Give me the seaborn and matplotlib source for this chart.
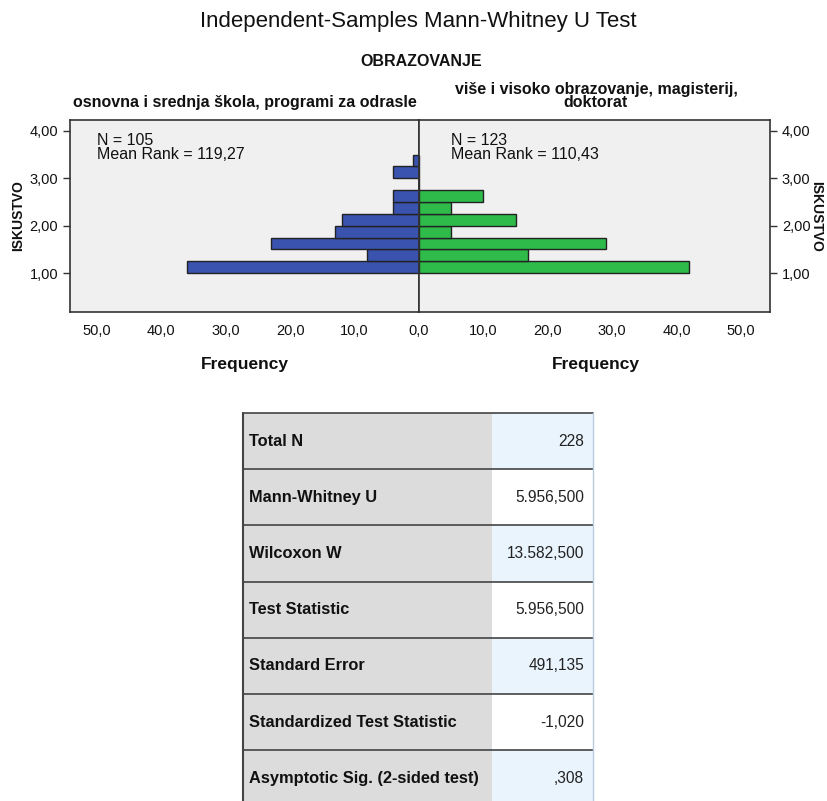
import numpy as np
import pandas as pd
import matplotlib
matplotlib.use('Agg')
import matplotlib.pyplot as plt
import seaborn as sns
from matplotlib.ticker import FuncFormatter
from matplotlib.patches import Rectangle

sns.set_style('white')
plt.rcParams['font.family'] = ['Liberation Sans', 'DejaVu Sans']
plt.rcParams['text.color'] = '#111111'

# ISKUSTVO bins (lower edges) and frequencies per group
bin_edges = [1.00, 1.25, 1.50, 1.75, 2.00, 2.25, 2.50, 2.75, 3.00, 3.25, 3.50]
bin_starts = [1.00, 1.25, 1.50, 1.75, 2.00, 2.25, 2.50, 2.75, 3.00, 3.25]
freq_left = [36, 8, 23, 13, 12, 4, 4, 0, 4, 1]
freq_right = [42, 17, 29, 5, 15, 5, 10, 0, 0, 0]

group_left = 'osnovna i srednja škola, programi za odrasle'
group_right = 'više i visoko obrazovanje, magisterij,\ndoktorat'
stats_left = 'N = 105\nMean Rank = 119,27'
stats_right = 'N = 123\nMean Rank = 110,43'

table_labels = ['Total N', 'Mann-Whitney U', 'Wilcoxon W', 'Test Statistic',
                'Standard Error', 'Standardized Test Statistic',
                'Asymptotic Sig. (2-sided test)']
table_values = ['228', '5.956,500', '13.582,500', '5.956,500', '491,135',
                '-1,020', ',308']

blue = '#3A53AE'
green = '#2EBB4A'
bg = '#F0F0F0'
edge = '#222222'

W, H = 827, 801
fig = plt.figure(figsize=(W / 100, H / 100), dpi=100)


def fx(px):
    return px / W


def fy(py):
    return 1 - py / H


top, bottom = 120, 312
axL = fig.add_axes([fx(70), fy(bottom), fx(419) - fx(70), fy(top) - fy(bottom)])
axR = fig.add_axes([fx(419), fy(bottom), fx(770) - fx(419), fy(top) - fy(bottom)])

dl = pd.DataFrame({'iskustvo': bin_starts, 'freq': freq_left})
dr = pd.DataFrame({'iskustvo': bin_starts, 'freq': freq_right})
dl = dl[dl['freq'] > 0]
dr = dr[dr['freq'] > 0]

sns.histplot(data=dl, y='iskustvo', weights='freq', bins=bin_edges, ax=axL,
             color=blue, edgecolor=edge, linewidth=1.0, alpha=1)
sns.histplot(data=dr, y='iskustvo', weights='freq', bins=bin_edges, ax=axR,
             color=green, edgecolor=edge, linewidth=1.0, alpha=1)

comma1 = FuncFormatter(lambda v, p: f'{v:.1f}'.replace('.', ','))
comma2 = FuncFormatter(lambda v, p: f'{v:.2f}'.replace('.', ','))

for ax in (axL, axR):
    ax.set_facecolor(bg)
    ax.set_ylim(0.18, 4.23)
    ax.set_yticks([1, 2, 3, 4])
    ax.yaxis.set_major_formatter(comma2)
    ax.xaxis.set_major_formatter(comma1)
    ax.set_xlabel('')
    ax.set_ylabel('')
    for s in ax.spines.values():
        s.set_color('#333333')
        s.set_linewidth(1.2)
    ax.tick_params(axis='both', direction='out', length=5, width=1,
                   color='#333333', labelsize=10.5, labelcolor='#111111')

axL.set_xlim(54.2, 0)
axL.set_xticks([10, 20, 30, 40, 50])
axR.set_xlim(0, 54.5)
axR.set_xticks([0, 10, 20, 30, 40, 50])
axL.tick_params(axis='y', left=True, right=False, labelleft=True)
axR.tick_params(axis='y', left=False, right=True, labelleft=False, labelright=True)

axL.text(0.077, 0.93, stats_left, transform=axL.transAxes, ha='left', va='top',
         fontsize=11.5, linespacing=0.9)
axR.text(0.09, 0.93, stats_right, transform=axR.transAxes, ha='left', va='top',
         fontsize=11.5, linespacing=0.9)

# titles and labels
fig.text(fx(418), fy(22), 'Independent-Samples Mann-Whitney U Test', ha='center',
         va='center', fontsize=16)
fig.text(fx(421), fy(62), 'OBRAZOVANJE', ha='center', va='center',
         fontsize=11.5, fontweight='bold')
fig.text(fx(245), fy(103), group_left, ha='center', va='center',
         fontsize=11.5, fontweight='bold')
fig.text(fx(596), fy(96), group_right, ha='center', va='center',
         fontsize=11.5, fontweight='bold', linespacing=0.9)
fig.text(fx(18), fy(216), 'ISKUSTVO', ha='center', va='center', rotation=90,
         fontsize=10, fontweight='bold')
fig.text(fx(816), fy(216), 'ISKUSTVO', ha='center', va='center', rotation=270,
         fontsize=10, fontweight='bold')
fig.text(fx(245), fy(365), 'Frequency', ha='center', va='center',
         fontsize=12.5, fontweight='bold')
fig.text(fx(596), fy(365), 'Frequency', ha='center', va='center',
         fontsize=12.5, fontweight='bold')

# statistics table
t_left, t_right, t_top, row_h = 243, 593, 413, 56.2
n_rows = len(table_labels)
t_bottom = t_top + n_rows * row_h
axT = fig.add_axes([fx(t_left), fy(t_bottom), fx(t_right) - fx(t_left),
                    fy(t_top) - fy(t_bottom)])
axT.set_xlim(0, t_right - t_left)
axT.set_ylim(n_rows, 0)
axT.axis('off')
split = 492 - t_left
for i, (lab, val) in enumerate(zip(table_labels, table_values)):
    axT.add_patch(Rectangle((0, i), split, 1, facecolor='#DCDCDC', edgecolor='none'))
    vcol = '#EAF4FD' if i % 2 == 0 else '#FFFFFF'
    axT.add_patch(Rectangle((split, i), t_right - t_left - split, 1,
                            facecolor=vcol, edgecolor='none'))
    axT.text(6, i + 0.5, lab, ha='left', va='center', fontsize=11.8,
             fontweight='bold', color='#111111')
    axT.text(t_right - t_left - 9, i + 0.5, val, ha='right', va='center',
             fontsize=11.2, color='#222222')
for i in range(n_rows + 1):
    axT.plot([0, t_right - t_left], [i, i], color='#444444', lw=1.2, clip_on=False)
axT.plot([0, 0], [0, n_rows], color='#444444', lw=1.5, clip_on=False)
axT.plot([t_right - t_left] * 2, [0, n_rows], color='#B8CCE0', lw=1, clip_on=False)

fig.savefig('out.png', dpi=100)
plt.close(fig)
